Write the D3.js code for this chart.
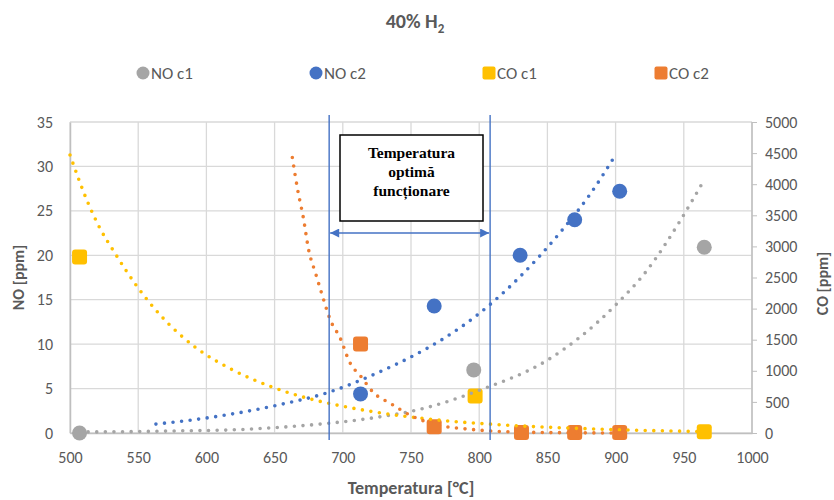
<!DOCTYPE html>
<html>
<head>
<meta charset="utf-8">
<script src="https://cdn.jsdelivr.net/npm/d3@7"></script>
<style>
  body { margin: 0; background: #fff; }
  svg text { font-family: Carlito, Lato, "Open Sans", sans-serif; fill: #595959; }
  .box-text { font-family: "Liberation Serif", "Times New Roman", serif !important; fill: #000 !important; font-weight: bold; }
</style>
</head>
<body>
<svg id="chart" width="834" height="500"></svg>
<script>
// series names + colours
const seriesNames = ["NO c1", "NO c2", "CO c1", "CO c2"];
const seriesColors = ["#a5a5a5", "#4472c4", "#ffc000", "#ed7d31"];

// measured points (temperature in °C)
const noC1Temp = [507, 796, 965];
const noC1Vals = [0, 7.1, 20.9];
const noC2Temp = [713, 767, 830, 870, 903];
const noC2Vals = [4.4, 14.3, 20, 24, 27.2];
const coC1Temp = [507, 797, 965];
const coC1Vals = [2830, 595, 20];
const coC2Temp = [713, 767, 831, 870, 903];
const coC2Vals = [1430, 100, 10, 10, 10];

// trend lines
const noC1TrendT = [507, 544, 580, 617, 654, 690, 720, 760, 800, 850, 874, 900, 923, 947, 965];
const noC1TrendV = [0.12, 0.15, 0.24, 0.34, 0.64, 1.1, 1.65, 2.8, 4.8, 8.2, 10.8, 14.4, 18.3, 23.8, 28.5];
const noC2TrendT = [563, 605, 651, 690, 717, 809, 830, 859, 881, 900];
const noC2TrendV = [1.0, 1.8, 3.1, 4.6, 6.2, 14.6, 17.6, 22.5, 26.8, 31.3];
const coC1TrendT = [500, 513, 522, 533, 549, 566, 593, 617, 648, 674, 700, 720, 769, 818, 891, 965];
const coC1TrendV = [4470, 3710, 3290, 2890, 2360, 1900, 1360, 1040, 740, 560, 430, 350, 210, 129, 60, 22];
const coC2TrendT = [663, 667, 671, 675, 680, 685, 691, 698, 705, 714, 722, 735, 749, 769, 793, 817, 860, 905];
const coC2TrendV = [4430, 3900, 3470, 2940, 2570, 2210, 1810, 1530, 1140, 890, 660, 475, 290, 130, 60, 22, 5, 0];

// axis ticks
const xTicks = [500, 550, 600, 650, 700, 750, 800, 850, 900, 950, 1000];
const yLeftTicks = [0, 5, 10, 15, 20, 25, 30, 35];
const yRightTicks = [0, 500, 1000, 1500, 2000, 2500, 3000, 3500, 4000, 4500, 5000];

// optimal temperature window
const optimRange = [690, 808];
const boxLines = ["Temperatura", "optimă", "funcționare"];

const svg = d3.select("#chart");
const width = +svg.attr("width");
const height = +svg.attr("height");
const margin = { top: 122, right: 81, bottom: 67, left: 70 };

const x = d3.scaleLinear().domain([500, 1000]).range([margin.left, width - margin.right - 1]);
const yL = d3.scaleLinear().domain([0, 35]).range([height - margin.bottom, margin.top]);
const yR = d3.scaleLinear().domain([0, 5000]).range([height - margin.bottom, margin.top]);

// gridlines
svg.append("g")
    .selectAll("line.h")
    .data(yLeftTicks)
    .enter()
    .append("line")
    .attr("x1", x(500)).attr("x2", x(1000))
    .attr("y1", d => yL(d)).attr("y2", d => yL(d))
    .attr("stroke", "#d9d9d9").attr("stroke-width", 1.3);
svg.append("g")
    .selectAll("line.v")
    .data(xTicks)
    .enter()
    .append("line")
    .attr("x1", d => x(d)).attr("x2", d => x(d))
    .attr("y1", yL(0)).attr("y2", yL(35))
    .attr("stroke", "#d9d9d9").attr("stroke-width", 1.3);

// axes
const fmt = d3.format("d");
let xAxis = svg.append("g")
    .attr("transform", "translate(0," + yL(0) + ")")
    .call(d3.axisBottom(x).tickValues(xTicks).tickFormat(fmt).tickSize(0).tickPadding(19));
let leftAxis = svg.append("g")
    .attr("transform", "translate(" + x(500) + ",0)")
    .call(d3.axisLeft(yL).tickValues(yLeftTicks).tickFormat(fmt).tickSize(0).tickPadding(17));
let rightAxis = svg.append("g")
    .attr("transform", "translate(" + x(1000) + ",0)")
    .call(d3.axisRight(yR).tickValues(yRightTicks).tickFormat(fmt).tickSize(5).tickPadding(8));

[xAxis, leftAxis, rightAxis].forEach(a => {
    a.select(".domain").attr("stroke", "#bfbfbf").attr("stroke-width", 1.5);
    a.selectAll(".tick line").attr("stroke", "#bfbfbf");
    a.selectAll("text").style("font-size", "16px").attr("fill", "#595959");
});
rightAxis.select(".domain").attr("d", "M0," + yR(5000) + "V" + yR(0));

// axis titles
svg.append("text")
    .attr("x", (x(500) + x(1000)) / 2).attr("y", 494)
    .attr("text-anchor", "middle")
    .style("font-size", "18px").style("font-weight", "600")
    .text("Temperatura [°C]");
svg.append("text")
    .attr("transform", "translate(24," + yL(17.5) + ") rotate(-90)")
    .attr("text-anchor", "middle")
    .style("font-size", "16px").style("font-weight", "600")
    .text("NO [ppm]");
svg.append("text")
    .attr("transform", "translate(828," + (yL(17.5) + 6) + ") rotate(-90)")
    .attr("text-anchor", "middle")
    .style("font-size", "16px").style("font-weight", "600")
    .text("CO [ppm]");

// title
let title = svg.append("text")
    .attr("x", 415).attr("y", 28)
    .attr("text-anchor", "middle")
    .style("font-size", "20px").style("font-weight", "bold");
title.append("tspan").text("40% H");
title.append("tspan").attr("dy", 5).style("font-size", "13px").text("2");

// legend
const legendX = [143, 316, 489, 661];
let legend = svg.append("g")
    .selectAll("g")
    .data(seriesNames)
    .enter()
    .append("g")
    .attr("transform", (d, i) => "translate(" + legendX[i] + ",73)");
legend.each(function (d, i) {
    let g = d3.select(this);
    if (i < 2) {
        g.append("circle").attr("r", 6.5).attr("fill", seriesColors[i]);
    } else {
        g.append("rect").attr("x", -6.5).attr("y", -6.5).attr("width", 13).attr("height", 13)
            .attr("rx", 2).attr("fill", seriesColors[i]);
    }
    g.append("text").attr("x", 8).attr("y", 6)
        .style("font-size", "17px")
        .text(d);
});

// markers
const zipPts = (t, v) => t.map((d, i) => [d, v[i]]);
const markers = [
    { pts: zipPts(noC1Temp, noC1Vals), y: yL, shape: "circle", color: seriesColors[0] },
    { pts: zipPts(noC2Temp, noC2Vals), y: yL, shape: "circle", color: seriesColors[1] },
    { pts: zipPts(coC1Temp, coC1Vals), y: yR, shape: "square", color: seriesColors[2] },
    { pts: zipPts(coC2Temp, coC2Vals), y: yR, shape: "square", color: seriesColors[3] }
];
markers.forEach(m => {
    let sel = svg.append("g").selectAll("x").data(m.pts).enter();
    if (m.shape === "circle") {
        sel.append("circle")
            .attr("cx", d => x(d[0])).attr("cy", d => m.y(d[1]))
            .attr("r", 7.5).attr("fill", m.color);
    } else {
        sel.append("rect")
            .attr("x", d => x(d[0]) - 7.5).attr("y", d => m.y(d[1]) - 7.5)
            .attr("width", 15).attr("height", 15).attr("rx", 3)
            .attr("fill", m.color);
    }
});

// dotted trend lines
const trends = [
    { pts: zipPts(noC1TrendT, noC1TrendV), y: yL, color: seriesColors[0] },
    { pts: zipPts(noC2TrendT, noC2TrendV), y: yL, color: seriesColors[1] },
    { pts: zipPts(coC1TrendT, coC1TrendV), y: yR, color: seriesColors[2] },
    { pts: zipPts(coC2TrendT, coC2TrendV), y: yR, color: seriesColors[3] }
];
trends.forEach(t => {
    let line = d3.line()
        .x(d => x(d[0]))
        .y(d => t.y(d[1]))
        .curve(d3.curveMonotoneX);
    svg.append("path")
        .attr("d", line(t.pts))
        .attr("fill", "none")
        .attr("stroke", t.color)
        .attr("stroke-width", 3.6)
        .attr("stroke-linecap", "round")
        .attr("stroke-dasharray", "0 8.6");
});

// optimal window: vertical lines, arrow, box
const blue = "#4472c4";
optimRange.forEach(t => {
    svg.append("line")
        .attr("x1", x(t)).attr("x2", x(t))
        .attr("y1", 115).attr("y2", 440)
        .attr("stroke", blue).attr("stroke-width", 1.4);
});

let defs = svg.append("defs");
defs.append("marker")
    .attr("id", "arrow")
    .attr("viewBox", "0 0 10 10")
    .attr("refX", 10).attr("refY", 5)
    .attr("markerWidth", 11).attr("markerHeight", 9)
    .attr("markerUnits", "userSpaceOnUse")
    .attr("orient", "auto-start-reverse")
    .append("path")
    .attr("d", "M0,0L10,5L0,10Z")
    .attr("fill", blue);

svg.append("line")
    .attr("x1", x(optimRange[0]) + 1).attr("x2", x(optimRange[1]) - 1)
    .attr("y1", 233).attr("y2", 233)
    .attr("stroke", blue).attr("stroke-width", 1.6)
    .attr("marker-start", "url(#arrow)")
    .attr("marker-end", "url(#arrow)");

svg.append("rect")
    .attr("x", 340).attr("y", 135)
    .attr("width", 143).attr("height", 86)
    .attr("fill", "#fff")
    .attr("stroke", "#000").attr("stroke-width", 1.5);

svg.append("g")
    .selectAll("text")
    .data(boxLines)
    .enter()
    .append("text")
    .attr("class", "box-text")
    .attr("x", 411.5)
    .attr("y", (d, i) => 158 + i * 19)
    .attr("text-anchor", "middle")
    .style("font-size", "15.5px")
    .text(d => d);
</script>
</body>
</html>
